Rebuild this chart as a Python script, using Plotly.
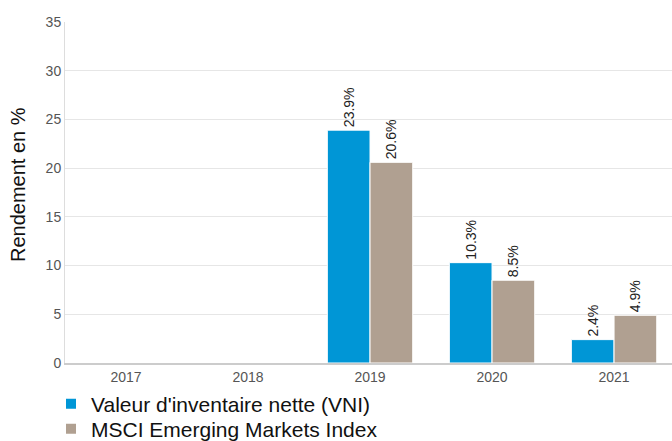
import plotly.graph_objects as go

years = ["2017", "2018", "2019", "2020", "2021"]
vni = [None, None, 23.9, 10.3, 2.4]
msci = [None, None, 20.6, 8.5, 4.9]
series_names = ["Valeur d'inventaire nette (VNI)", "MSCI Emerging Markets Index"]
colors = ["#0096d6", "#b0a091"]
y_title = "Rendement en %"

def labels(vals):
    return [f"{v}%" if v is not None else "" for v in vals]

fig = go.Figure()
for name, vals, col, lg in zip(series_names, [vni, msci], colors, ["legend", "legend2"]):
    fig.add_trace(go.Bar(
        x=years, y=vals, name=name, legend=lg,
        marker=dict(color=col, line=dict(color="white", width=1)),
        text=labels(vals), textposition="outside", textangle=-90,
        constraintext="none",
        textfont=dict(size=14, color="#222"), cliponaxis=False,
    ))

legend_common = dict(xref="container", yref="container", x=0.0759,
                     xanchor="left", yanchor="top", bgcolor="rgba(0,0,0,0)",
                     font=dict(size=21, color="#111"), itemsizing="constant")

fig.update_layout(
    width=672, height=441,
    margin=dict(l=65, r=0, t=22, b=78, autoexpand=False),
    paper_bgcolor="white", plot_bgcolor="white",
    font=dict(family="Liberation Sans, Arial, sans-serif"),
    barmode="group", bargap=0.3, bargroupgap=0,
    showlegend=True,
    legend=dict(y=0.13, **legend_common),
    legend2=dict(y=0.0733, **legend_common),
    xaxis=dict(range=[-0.5, 4.475], tickfont=dict(size=14, color="#555"),
               showline=True, linecolor="#ccc", linewidth=2, ticks="",
               showgrid=False, automargin=False),
    yaxis=dict(range=[0, 35], dtick=5, tickfont=dict(size=14, color="#555"),
               showgrid=True, gridcolor="#e6e6e6", zeroline=False,
               showline=True, linecolor="#ddd", linewidth=1, automargin=False),
    annotations=[dict(text=y_title, textangle=-90, xref="paper", yref="paper",
                      x=-0.0774, y=0.522, xanchor="center", yanchor="middle",
                      showarrow=False, font=dict(size=20, color="#111"))],
)

fig.write_html("out.html", config={"displayModeBar": False},
               post_script="document.body.style.margin='0';document.body.style.overflow='hidden';")
